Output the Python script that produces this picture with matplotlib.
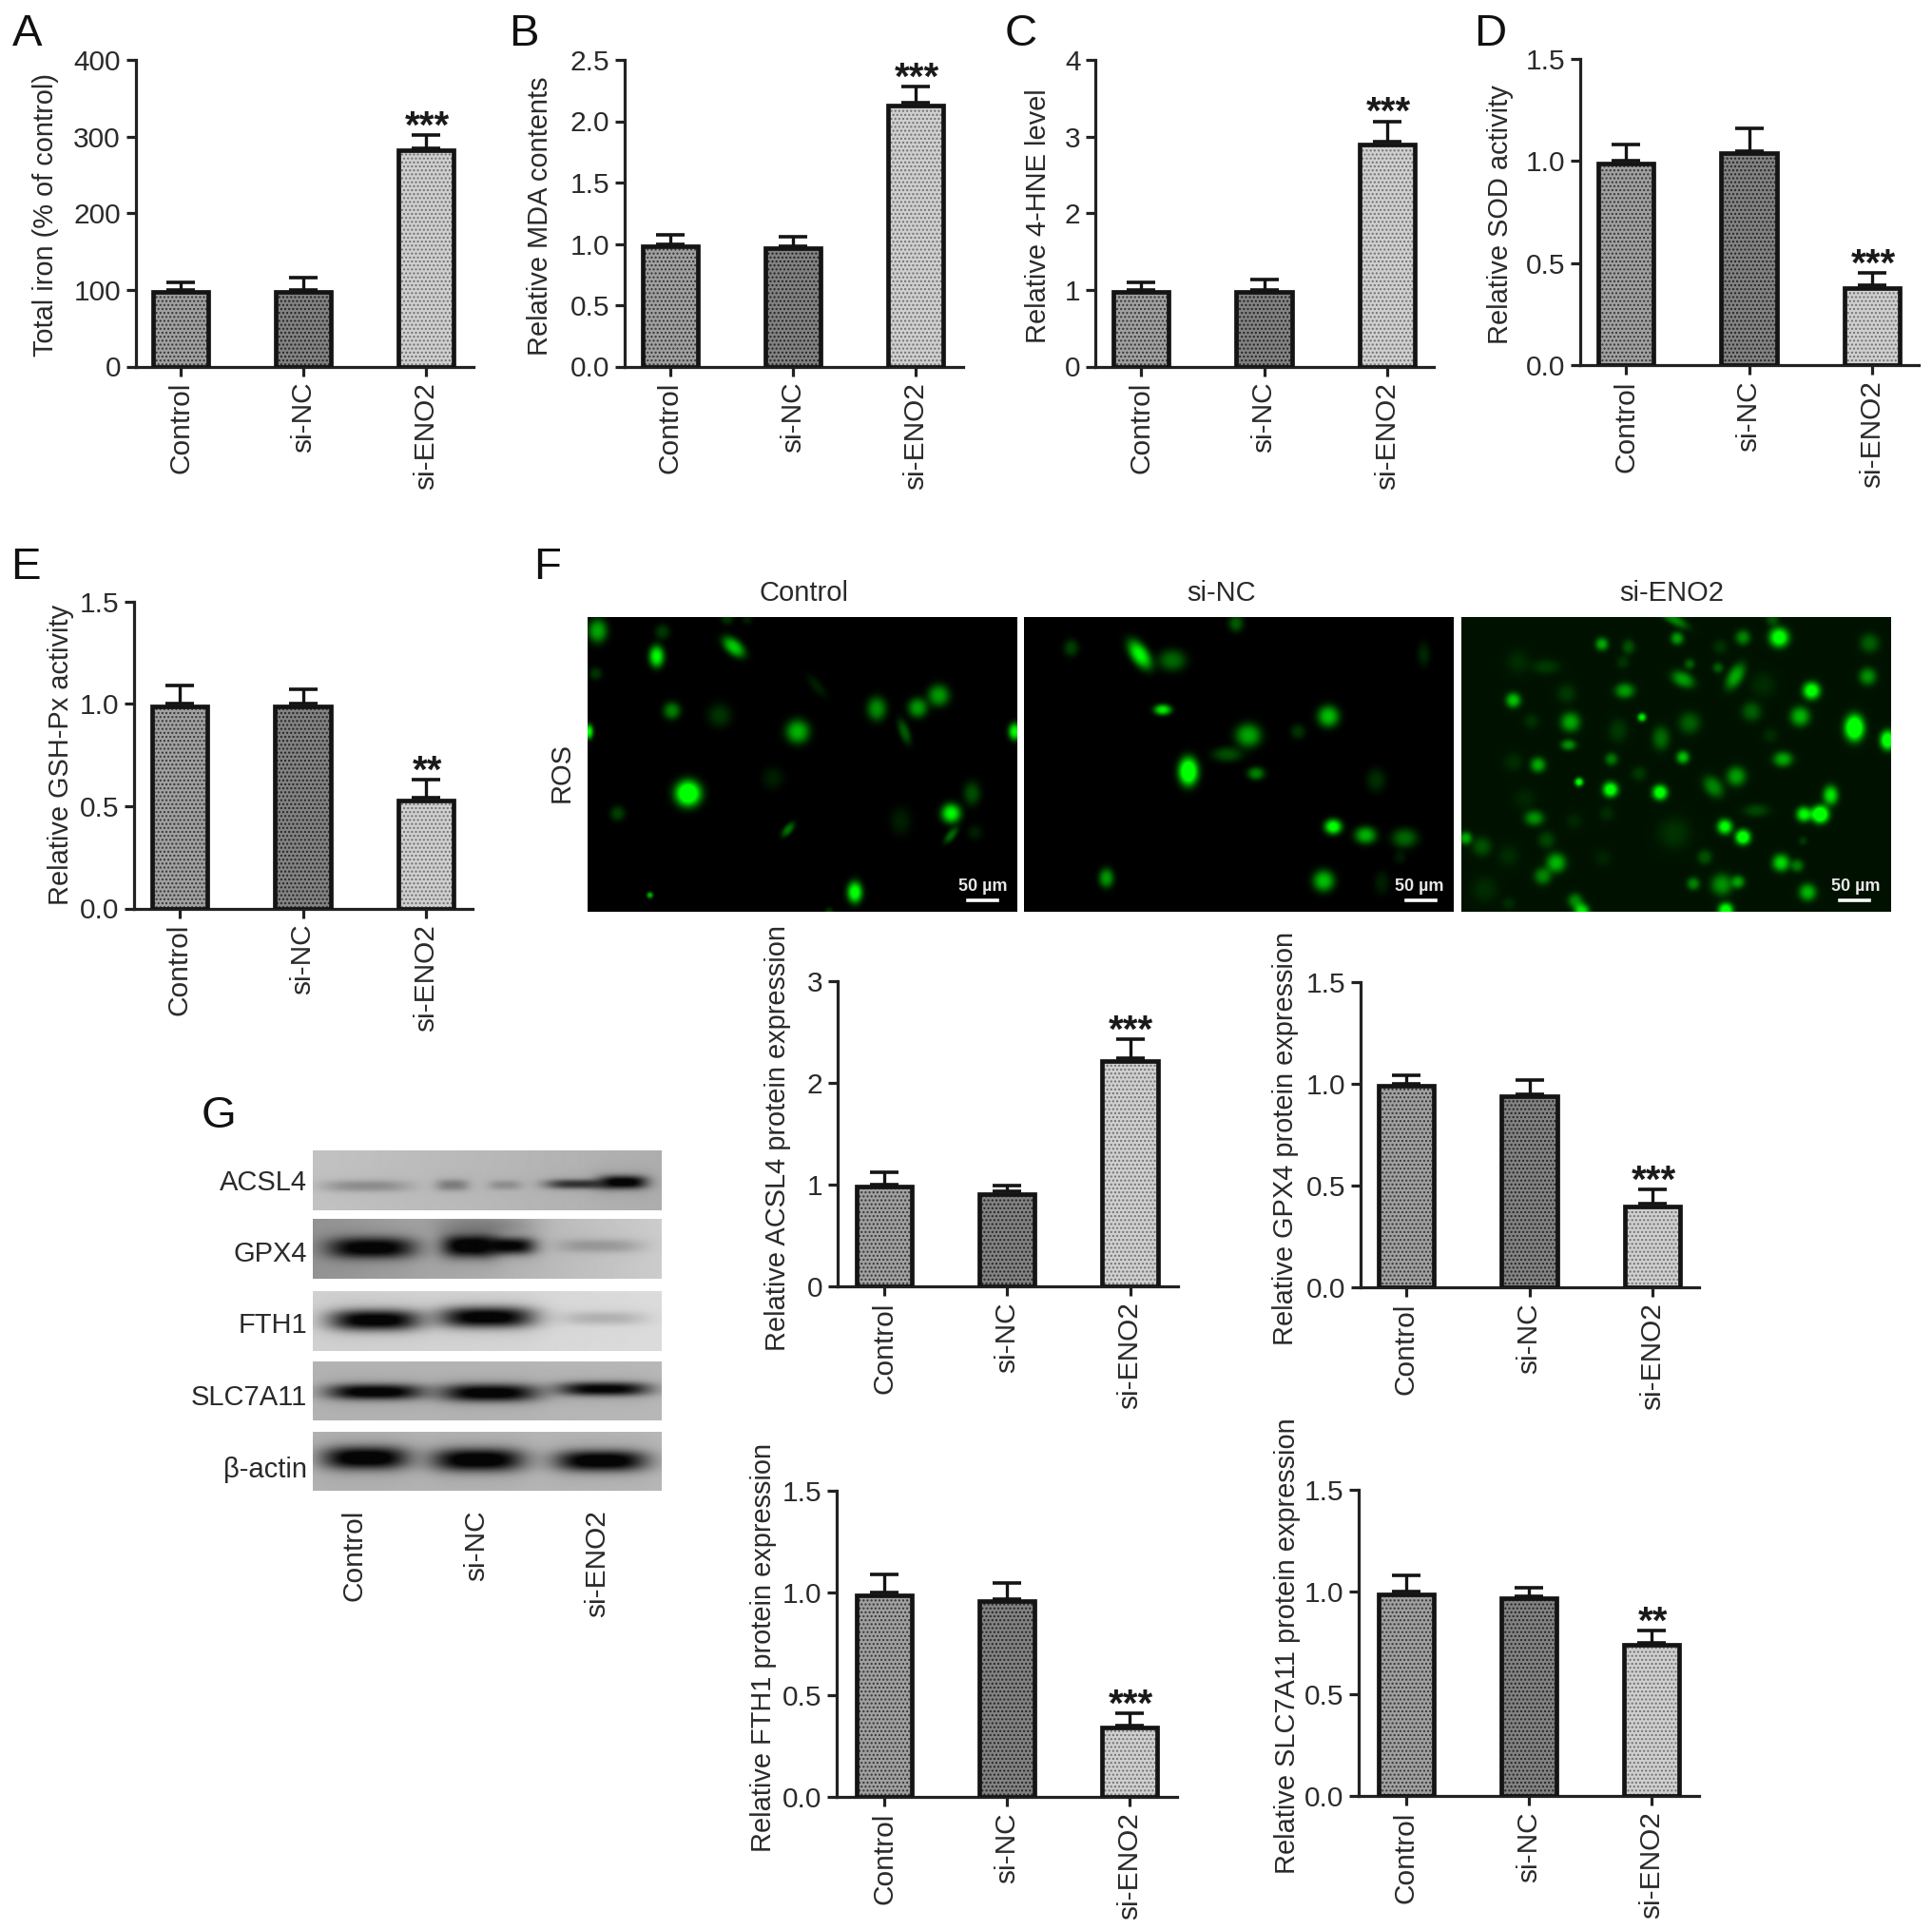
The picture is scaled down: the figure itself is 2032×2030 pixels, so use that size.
import numpy as np
import matplotlib
matplotlib.use('Agg')
import matplotlib.pyplot as plt

plt.rcParams['font.family'] = ['Liberation Sans', 'DejaVu Sans']
plt.rcParams['hatch.linewidth'] = 1.0

W, H = 2032, 2030
TXT = '#2a2a2a'

groups = ['Control', 'si-NC', 'si-ENO2']

iron = [100, 100, 285]
iron_err = [10, 16, 17]
mda = [1.0, 0.98, 2.15]
mda_err = [0.07, 0.08, 0.13]
hne = [1.0, 1.0, 2.93]
hne_err = [0.1, 0.13, 0.27]
sod = [1.0, 1.05, 0.39]
sod_err = [0.08, 0.11, 0.06]
gsh = [1.0, 1.0, 0.54]
gsh_err = [0.09, 0.07, 0.09]
acsl4 = [1.0, 0.93, 2.24]
acsl4_err = [0.12, 0.06, 0.19]
gpx4 = [1.0, 0.95, 0.41]
gpx4_err = [0.04, 0.07, 0.07]
fth1 = [1.0, 0.97, 0.35]
fth1_err = [0.09, 0.08, 0.06]
slc = [1.0, 0.98, 0.75]
slc_err = [0.08, 0.04, 0.06]

iron_ticks = [0, 100, 200, 300, 400]
mda_ticks = ['0.0', '0.5', '1.0', '1.5', '2.0', '2.5']
hne_ticks = [0, 1, 2, 3, 4]
half_ticks = ['0.0', '0.5', '1.0', '1.5']
acsl4_ticks = [0, 1, 2, 3]

# cells: x, y, brightness, radius x, radius y, optional angle (image pixels)
cells_control = [
    (10, 15, .65, 9, 11), (78, 16, .22, 7, 7), (72, 42, 1.0, 7, 10), (153, 32, .8, 12, 7, 40),
    (8, 60, .2, 6, 6), (240, 73, .12, 13, 5, 50), (88, 99, .5, 8, 8), (138, 104, .2, 11, 11),
    (220, 121, .7, 11, 11), (1, 121, 1.0, 4, 7), (303, 97, .55, 9, 11), (346, 96, .6, 9, 9),
    (368, 83, .6, 10, 10), (332, 121, .35, 12, 5, 70), (448, 121, 1.0, 6, 8), (194, 170, .12, 10, 10),
    (105, 186, 1.4, 12, 12), (403, 186, .3, 8, 11), (381, 207, 1.0, 9, 9), (31, 207, .25, 7, 7),
    (328, 215, .12, 10, 13), (210, 224, .45, 8, 4, -50), (381, 230, .4, 9, 4, -50), (406, 227, .12, 7, 7),
    (65, 293, .7, 3, 3), (280, 290, 1.1, 7, 10), (253, 310, .2, 4, 4), (146, 2, .2, 6, 6),
    (167, 3, .12, 5, 5),
]
cells_nc = [
    (49, 33, .25, 7, 8), (121, 40, 1.0, 15, 8, 55), (155, 46, .4, 13, 10), (222, 7, .35, 7, 8),
    (145, 98, .95, 8, 5), (319, 105, .75, 10, 10), (235, 125, .65, 12, 11), (287, 121, .2, 7, 7),
    (213, 145, .3, 14, 7), (172, 163, 1.4, 9, 13), (243, 165, .5, 8, 6), (369, 172, .18, 9, 11),
    (419, 40, .15, 6, 11), (324, 221, 1.1, 8, 7), (358, 230, .7, 10, 8), (399, 233, .4, 12, 9),
    (394, 253, .1, 6, 6), (86, 275, .6, 7, 9), (314, 278, .75, 10, 10), (375, 280, .12, 7, 11),
]
cells_eno2 = [
    (147, 29, .6, 6, 6), (226, 23, .55, 6, 6), (223, 3, .45, 14, 5, 30), (175, 32, .25, 6, 7),
    (169, 48, .13, 6, 6), (295, 22, .45, 7, 7), (333, 22, 1.1, 9, 9), (326, 3, .25, 6, 6),
    (271, 32, .12, 7, 7), (428, 28, .3, 9, 9), (426, 63, .5, 8, 8), (239, 50, .3, 5, 5),
    (269, 54, .3, 5, 5), (232, 66, .55, 11, 7, 25), (287, 63, .6, 13, 7, -60), (59, 48, .1, 11, 11),
    (88, 53, .15, 13, 7), (110, 81, .15, 9, 9), (171, 78, .55, 9, 7), (316, 72, .1, 12, 12),
    (367, 78, 1.1, 8, 8), (54, 88, .7, 7, 7), (304, 100, .3, 9, 9), (355, 105, .65, 9, 9),
    (73, 110, .12, 7, 7), (114, 111, .6, 9, 9), (189, 106, .9, 4, 4), (164, 120, .15, 9, 11),
    (239, 112, .3, 10, 10), (412, 117, 1.4, 9, 12), (447, 130, 1.2, 7, 9), (209, 128, .35, 8, 11),
    (324, 125, .1, 7, 7), (112, 135, .5, 7, 5), (157, 150, .4, 6, 6), (232, 148, .7, 6, 6),
    (337, 150, .6, 9, 7), (54, 153, .1, 9, 9), (80, 156, .6, 7, 7), (186, 165, .15, 7, 7),
    (288, 168, .55, 9, 9), (123, 174, 1.0, 4, 4), (156, 182, 1.1, 7, 7), (208, 185, 1.1, 7, 7),
    (264, 179, .45, 11, 8, 50), (387, 188, .85, 7, 9), (66, 192, .08, 10, 10), (359, 208, .95, 7, 7),
    (376, 208, 1.4, 8, 8), (309, 204, .2, 12, 6), (76, 212, .5, 9, 7), (152, 207, .1, 7, 7),
    (118, 215, .08, 8, 8), (276, 221, 1.0, 7, 7), (295, 232, 1.2, 7, 7), (223, 228, .13, 15, 15),
    (89, 235, .2, 8, 8), (21, 242, .25, 9, 9), (4, 233, .6, 6, 6), (49, 252, .1, 10, 10),
    (358, 236, .15, 4, 4), (255, 253, .25, 7, 7), (99, 259, .65, 9, 9), (148, 254, .07, 8, 8),
    (335, 259, .8, 8, 8), (352, 262, .4, 6, 6), (85, 273, .45, 8, 8), (273, 282, .5, 10, 10),
    (243, 281, .45, 6, 6), (290, 279, .55, 6, 6), (363, 290, .65, 8, 8), (24, 287, .1, 12, 12),
    (119, 299, .45, 7, 7), (49, 302, .1, 6, 6), (126, 310, .85, 7, 7), (277, 309, 1.1, 7, 7),
]

# blot strips: name, left grey, right grey, bands (x centre, half width, y centre, half height, darkness)
blot_names = ['ACSL4', 'GPX4', 'FTH1', 'SLC7A11', 'β-actin']
blot_grey = [(.76, .68), (.58, .80), (.82, .86), (.70, .72), (.70, .72)]
blot_bands = [
    [(55, 45, 37, 6, .24), (146, 17, 36, 6, .3), (201, 17, 36, 5, .2), (276, 32, 35, 5, .65), (325, 25, 33, 7, .95)],
    [(61, 46, 30, 11, .95), (163, 28, 28, 12, .97), (206, 27, 28, 9, .9), (301, 44, 28, 7, .2), (180, 50, 6, 10, .2)],
    [(65, 48, 30, 11, .97), (182, 50, 27, 11, .97), (305, 44, 28, 7, .17)],
    [(65, 50, 33, 8, .97), (185, 51, 34, 9, .97), (305, 48, 30, 7, .92)],
    [(55, 45, 28, 12, 1.0), (173, 48, 30, 12, 1.0), (302, 48, 31, 11, 1.0)],
]


def px_axes(x0, y0, x1, y1):
    return fig.add_axes([x0 / W, 1 - y1 / H, (x1 - x0) / W, (y1 - y0) / H])


def bar_panel(x_axis, x_c0, x_c2, x_right, y_top, y_base, vals, errs, ticks, ylabel, lab_x, lab_y, stars):
    ax = px_axes(x_axis, y_top, x_right, y_base)
    step = (x_c2 - x_c0) / 2
    ax.set_xlim((x_axis - x_c0) / step, 2 + (x_right - x_c2) / step)
    tick_vals = [float(t) for t in ticks]
    ax.set_ylim(0, tick_vals[-1])
    x = np.arange(3)
    faces = ['#a0a0a0', '#828282', '#cfcfcf']
    dots = ['#333333', '#222222', '#707070']
    # outline sits inside the value, as in the original graphs
    inset = 2.4 * tick_vals[-1] / (y_base - y_top)
    for i in range(3):
        h = vals[i] - inset
        ax.bar(x[i], h, 0.45, color=faces[i], edgecolor=dots[i], hatch='....', linewidth=0, zorder=2)
        ax.bar(x[i], h, 0.45, fill=False, edgecolor='#141414', linewidth=3.4, zorder=3)
    ax.errorbar(x, vals, yerr=[np.zeros(3), errs], fmt='none', ecolor='#141414', elinewidth=2.4,
                capsize=10.8, capthick=2.6, zorder=1)
    for s in ['top', 'right']:
        ax.spines[s].set_visible(False)
    for s in ['left', 'bottom']:
        ax.spines[s].set_linewidth(2.3)
        ax.spines[s].set_color('#222222')
    ax.set_xticks(x)
    ax.set_xticklabels(groups, rotation=90, fontsize=21.5, color=TXT)
    ax.set_yticks(tick_vals)
    ax.set_yticklabels([str(t) for t in ticks], fontsize=21.5, color=TXT)
    ax.tick_params(axis='x', length=7.2, width=2.3, pad=4.5, color='#222222')
    ax.tick_params(axis='y', length=7.2, width=2.3, pad=4, color='#222222')
    ax.patch.set_alpha(0)
    fig.text((lab_x + 3) / W, 1 - lab_y / H, ylabel, rotation=90, ha='center', va='center', fontsize=20.9, color=TXT)
    ax.annotate(stars, (2, vals[2] + errs[2]), xytext=(1, -2), textcoords='offset points', ha='center',
                va='baseline', fontsize=29, fontweight='bold', color='#1a1a1a', annotation_clip=False)
    return ax


def cell_image(cells, bg):
    h, w = 311, 451
    yy, xx = np.mgrid[0:h, 0:w]
    v = np.zeros((h, w))
    for cx, cy, b, rx, ry, *ang in cells:
        a = np.radians(ang[0]) if ang else 0.0
        u = (xx - cx) * np.cos(a) + (yy - cy) * np.sin(a)
        t = -(xx - cx) * np.sin(a) + (yy - cy) * np.cos(a)
        d2 = (u / rx) ** 2 + (t / ry) ** 2
        v += b * np.exp(-d2 ** 1.25 * 0.8)
    v = np.clip(v, 0, 1)
    img = np.zeros((h, w, 3))
    img[..., 1] = np.clip(bg + v, 0, 1)
    return img


def blot_image(k):
    h, w = 63, 366
    yy, xx = np.mgrid[0:h, 0:w]
    left, right = blot_grey[k]
    g = left + (right - left) * xx / w
    for xc, hw, yc, hh, dark in blot_bands[k]:
        prof = np.exp(-(np.abs(xx - xc) / hw) ** 3 - (np.abs(yy - yc) / hh) ** 2.4)
        halo = np.exp(-(np.abs(xx - xc) / (hw + 8)) ** 4 - ((yy - yc) / (hh * 2.0)) ** 2)
        g = g * (1 - dark * prof) - 0.08 * dark * halo
    return np.clip(g, 0.02, 1)


fig = plt.figure(figsize=(W / 100, H / 100), dpi=100, facecolor='white')

bar_panel(142.5, 190, 448, 498, 63, 385.5, iron, iron_err, iron_ticks, 'Total iron (% of control)', 45, 226, '***')
bar_panel(657, 705, 963, 1013, 63, 385.5, mda, mda_err, mda_ticks, 'Relative MDA contents', 565, 227, '***')
bar_panel(1152, 1200, 1459, 1508, 63, 385.5, hne, hne_err, hne_ticks, 'Relative 4-HNE level', 1089, 227, '***')
bar_panel(1661.5, 1710, 1969, 2018, 62, 384, sod, sod_err, half_ticks, 'Relative SOD activity', 1575, 226, '***')
bar_panel(141, 189, 448, 497, 633, 955.5, gsh, gsh_err, half_ticks, 'Relative GSH-Px activity', 61, 794, '**')
bar_panel(881, 930, 1188.5, 1239, 1032, 1353, acsl4, acsl4_err, acsl4_ticks,
          'Relative ACSL4 protein expression', 815, 1197, '***')
bar_panel(1431, 1479, 1738, 1787, 1033, 1354, gpx4, gpx4_err, half_ticks,
          'Relative GPX4 protein expression', 1349, 1197, '***')
bar_panel(880, 930, 1188, 1238, 1568, 1890, fth1, fth1_err, half_ticks,
          'Relative FTH1 protein expression', 800, 1733, '***')
bar_panel(1429, 1479, 1737, 1787.5, 1567, 1889, slc, slc_err, half_ticks,
          'Relative SLC7A11 protein expression', 1351, 1731, '**')

# F: ROS images
ros_panels = [(618, cells_control, 0.0, 846, 'Control', 1034, 1018, 1049),
              (1077, cells_nc, 0.0, 1285, 'si-NC', 1493, 1479, 1510),
              (1537, cells_eno2, 0.07, 1758, 'si-ENO2', 1952, 1935, 1966)]
for x0, cells, bg, tx, name, sx, b0, b1 in ros_panels:
    ax = px_axes(x0, 648.5, x0 + 452, 959)
    ax.imshow(cell_image(cells, bg), aspect='auto', interpolation='bilinear')
    ax.axis('off')
    fig.text(tx / W, 1 - 624 / H, name, ha='center', va='center', fontsize=21, color=TXT)
    fig.text(sx / W, 1 - 932 / H, '50 µm', ha='center', va='center', fontsize=13, fontweight='bold', color='#e8e8e8')
    fig.add_artist(plt.Line2D([b0 / W, b1 / W], [1 - 947 / H, 1 - 947 / H], color='white', lw=2.6))
fig.text(591 / W, 1 - 812 / H, 'ROS', rotation=90, ha='center', va='center', fontsize=21, color=TXT)

# G: blots
blot_tops = [1210, 1282, 1358, 1431.5, 1505.5]
blot_label_y = [1244.5, 1319, 1394, 1469.5, 1546]
for k, name in enumerate(blot_names):
    ax = px_axes(329, blot_tops[k], 696, blot_tops[k] + 63)
    ax.imshow(blot_image(k), cmap='gray', vmin=0, vmax=1, aspect='auto', interpolation='bilinear')
    ax.axis('off')
    fig.text(323 / W, 1 - blot_label_y[k] / H, name, ha='right', va='center', fontsize=21, color=TXT)
for x, name in zip([372, 501, 628.5], groups):
    fig.text(x / W, 1 - 1588 / H, name, rotation=90, ha='center', va='top', fontsize=21.5, color=TXT)

letters = [('A', 13, 48), ('B', 535, 48), ('C', 1057, 48), ('D', 1550, 48),
           ('E', 11, 609), ('F', 561, 609), ('G', 212, 1186)]
for s, x, y in letters:
    fig.text(x / W, 1 - y / H, s, ha='left', va='baseline', fontsize=34, color='#111111')

fig.savefig('out.png', dpi=100)
